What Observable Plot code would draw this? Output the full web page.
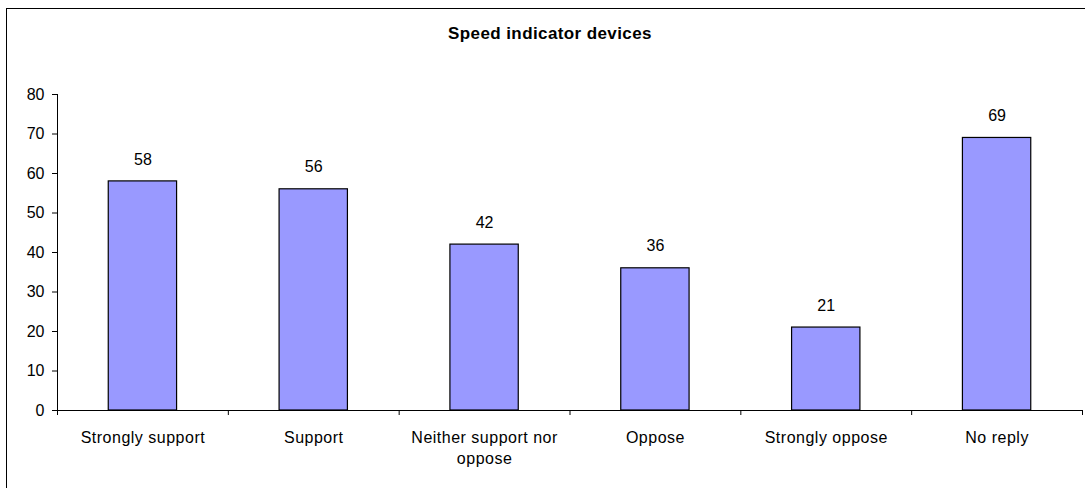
<!DOCTYPE html>
<html>
<head>
<meta charset="utf-8">
<script src="https://cdn.jsdelivr.net/npm/d3@7"></script>
<script src="https://cdn.jsdelivr.net/npm/@observablehq/plot@0.6"></script>
<style>
  html, body { margin: 0; padding: 0; background: #fff; overflow: hidden; }
  #wrap { position: relative; width: 1085px; height: 488px; overflow: hidden; font-family: Arial, "Liberation Sans", sans-serif; }
  #border { position: absolute; left: 6px; top: 8px; width: 1100px; height: 500px; border: 1px solid #000; box-sizing: border-box; }
  #title { position: absolute; left: 0; top: 24px; width: 1100px; text-align: center; font-weight: bold; font-size: 17px; line-height: 20px; letter-spacing: 0.4px; color: #000; }
  #chart { position: absolute; left: 0; top: 0; }
  .xlab text { letter-spacing: 0.5px; }
</style>
</head>
<body>
<div id="wrap">
  <div id="border"></div>
  <div id="title"></div>
  <div id="chart"></div>
</div>
<script>
const title = "Speed indicator devices";
const categories = ["Strongly support", "Support", "Neither support nor oppose", "Oppose", "Strongly oppose", "No reply"];
const tickLabels = ["Strongly support", "Support", "Neither support nor\noppose", "Oppose", "Strongly oppose", "No reply"];
const values = [58, 56, 42, 36, 21, 69];
const yTicks = [0, 10, 20, 30, 40, 50, 60, 70, 80];

const data = categories.map((c, i) => ({category: c, label: tickLabels[i], value: values[i], i}));

document.getElementById("title").textContent = title;

const chart = Plot.plot({
  width: 1085,
  height: 488,
  marginLeft: 57,
  marginRight: 3,
  marginTop: 94,
  marginBottom: 78,
  x: {domain: [0, categories.length]},
  y: {domain: [0, 80]},
  style: {fontFamily: "Arial, 'Liberation Sans', sans-serif", fontSize: "16px", background: "transparent", color: "#000", overflow: "visible"},
  marks: [
    Plot.rectY(data, {x1: d => d.i + 0.3, x2: d => d.i + 0.7, y: "value", fill: "#9999ff", stroke: "#000", strokeWidth: 1.2}),
    Plot.frame({anchor: "left", stroke: "#000"}),
    Plot.frame({anchor: "bottom", stroke: "#000"}),
    Plot.axisY({ticks: yTicks, tickSize: 5, tickPadding: 8, tickFormat: d => String(d), label: null, fontSize: 16}),
    Plot.axisX({ticks: d3.range(categories.length + 1), tickSize: 5, tickFormat: () => "", label: null}),
    Plot.text(data, {x: d => d.i + 0.5, y: "value", text: d => String(d.value), dy: -22, fontSize: 16}),
    Plot.text(data, {x: d => d.i + 0.5, y: () => 0, text: "label", lineAnchor: "top", dy: 17, lineHeight: 1.35, fontSize: 16, className: "xlab"})
  ]
});
document.getElementById("chart").appendChild(chart);
</script>
</body>
</html>
